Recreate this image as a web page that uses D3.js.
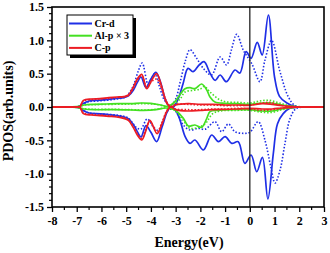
<!DOCTYPE html>
<html>
<head>
<meta charset="utf-8">
<script src="https://cdn.jsdelivr.net/npm/d3@7"></script>
<style>
  body { margin: 0; background: #fff; }
  .chart text { font-family: "Liberation Serif", "Times New Roman", serif; font-weight: bold; }
</style>
</head>
<body>
<div class="chart"></div>
<script>
// [energy (eV), PDOS] pairs
const crdUp = [[-8,0],[-7.2,0],[-6.9,0.01],[-6.7,0.06],[-6.5,0.09],[-6.2,0.1],[-5.8,0.11],[-5.4,0.13],[-5.1,0.14],[-4.9,0.17],[-4.7,0.26],[-4.55,0.37],[-4.4,0.45],[-4.2,0.29],[-4.0,0.42],[-3.8,0.52],[-3.6,0.36],[-3.45,0.15],[-3.3,0.03],[-3.1,0.0],[-2.9,0.12],[-2.7,0.35],[-2.5,0.58],[-2.3,0.53],[-2.05,0.63],[-1.85,0.68],[-1.6,0.5],[-1.4,0.40],[-1.2,0.48],[-0.95,0.38],[-0.6,0.555],[-0.4,0.51],[-0.15,0.83],[0.05,0.73],[0.3,0.97],[0.5,0.78],[0.75,1.38],[1.0,0.45],[1.2,0.16],[1.5,0.06],[1.8,0.01],[2.2,0],[3,0]];
const crdUpDot = [[-8,0],[-7.2,0],[-6.9,0.01],[-6.7,0.05],[-6.5,0.08],[-6.2,0.09],[-5.8,0.1],[-5.4,0.12],[-5.1,0.14],[-4.9,0.2],[-4.7,0.33],[-4.5,0.55],[-4.35,0.66],[-4.1,0.33],[-3.85,0.5],[-3.65,0.3],[-3.45,0.1],[-3.2,0.02],[-3.0,0.12],[-2.8,0.4],[-2.6,0.7],[-2.42,0.86],[-2.15,0.73],[-1.88,0.58],[-1.55,0.48],[-1.2,0.75],[-0.94,0.63],[-0.75,0.85],[-0.53,1.09],[-0.26,0.85],[0.08,0.65],[0.41,0.38],[0.61,0.7],[0.88,1.0],[1.22,0.53],[1.56,0.15],[1.83,0.02],[2.2,0],[3,0]];
const crdDn = [[-8,0],[-7.2,0],[-6.9,-0.01],[-6.7,-0.06],[-6.5,-0.09],[-6.2,-0.1],[-5.8,-0.11],[-5.4,-0.13],[-5.1,-0.15],[-4.9,-0.18],[-4.7,-0.27],[-4.55,-0.37],[-4.4,-0.45],[-4.2,-0.28],[-4.0,-0.38],[-3.77,-0.52],[-3.55,-0.3],[-3.35,-0.08],[-3.2,0.0],[-3.0,-0.05],[-2.82,-0.2],[-2.62,-0.44],[-2.42,-0.545],[-2.22,-0.495],[-1.88,-0.645],[-1.54,-0.42],[-1.27,-0.52],[-1.0,-0.445],[-0.73,-0.545],[-0.47,-0.52],[-0.2,-0.845],[0.05,-0.72],[0.28,-0.97],[0.51,-0.755],[0.73,-1.38],[0.95,-0.7],[1.12,-0.25],[1.35,-0.1],[1.62,-0.02],[2.0,0],[3,0]];
const crdDnDot = [[-8,0],[-7.2,0],[-6.9,-0.01],[-6.7,-0.06],[-6.5,-0.09],[-6.2,-0.1],[-5.8,-0.11],[-5.4,-0.12],[-5.1,-0.14],[-4.9,-0.17],[-4.7,-0.26],[-4.55,-0.32],[-4.4,-0.33],[-4.15,-0.18],[-3.9,-0.3],[-3.7,-0.35],[-3.5,-0.2],[-3.3,-0.05],[-3.1,-0.03],[-2.9,-0.12],[-2.69,-0.27],[-2.42,-0.345],[-2.08,-0.32],[-1.81,-0.335],[-1.41,-0.22],[-1.14,-0.37],[-0.87,-0.255],[-0.6,-0.37],[-0.26,-0.395],[0.0,-0.38],[0.34,-0.22],[0.61,-0.495],[0.85,-0.9],[1.02,-1.14],[1.22,-0.95],[1.42,-0.55],[1.62,-0.18],[1.85,-0.03],[2.2,0],[3,0]];

const alUp = [[-8,0],[-7.5,0],[-7.0,0.005],[-6.87,0.01],[-6.7,0.03],[-6.3,0.04],[-5.8,0.045],[-5.3,0.05],[-4.8,0.05],[-4.4,0.06],[-4.0,0.055],[-3.6,0.03],[-3.3,0.01],[-3.03,0.08],[-2.89,0.15],[-2.62,0.275],[-2.42,0.29],[-2.22,0.275],[-1.95,0.345],[-1.74,0.255],[-1.61,0.15],[-1.41,0.075],[-1.0,0.055],[-0.5,0.05],[0,0.04],[0.5,0.06],[0.9,0.06],[1.3,0.03],[1.7,0.01],[2.2,0],[3,0]];
const alUpDot = [[-8,0],[-7.5,0],[-7.0,0.005],[-6.7,0.03],[-6.3,0.035],[-5.5,0.04],[-4.8,0.045],[-4.3,0.05],[-3.8,0.04],[-3.3,0.01],[-3.0,0.06],[-2.8,0.13],[-2.62,0.225],[-2.3,0.25],[-2.0,0.27],[-1.84,0.31],[-1.61,0.225],[-1.27,0.12],[-1.0,0.08],[-0.5,0.07],[0,0.06],[0.4,0.09],[0.8,0.1],[1.2,0.06],[1.6,0.02],[2.0,0.005],[3,0]];
const alDn = [[-8,0],[-7.5,0],[-7.0,-0.005],[-6.7,-0.03],[-6.3,-0.04],[-5.5,-0.04],[-4.8,-0.045],[-4.3,-0.05],[-3.8,-0.04],[-3.4,-0.015],[-3.03,-0.045],[-2.69,-0.17],[-2.49,-0.285],[-2.22,-0.27],[-1.95,-0.305],[-1.74,-0.17],[-1.61,-0.07],[-1.3,-0.05],[-0.5,-0.04],[0,-0.04],[0.5,-0.06],[0.9,-0.06],[1.3,-0.03],[1.7,-0.01],[2.2,0],[3,0]];
const alDnDot = [[-8,0],[-7.5,0],[-7.0,-0.005],[-6.7,-0.025],[-6.3,-0.035],[-5.5,-0.035],[-4.8,-0.04],[-4.3,-0.045],[-3.8,-0.035],[-3.4,-0.015],[-3.0,-0.06],[-2.69,-0.2],[-2.42,-0.32],[-2.05,-0.3],[-1.8,-0.25],[-1.5,-0.1],[-1.2,-0.06],[-0.5,-0.05],[0,-0.05],[0.5,-0.08],[0.9,-0.08],[1.3,-0.04],[1.7,-0.01],[2.2,0],[3,0]];

const cpUp = [[-8,0],[-7.0,0],[-6.87,0.005],[-6.73,0.1],[-6.4,0.12],[-6.06,0.125],[-5.7,0.14],[-5.38,0.15],[-5.1,0.155],[-4.91,0.18],[-4.71,0.3],[-4.55,0.42],[-4.37,0.49],[-4.17,0.275],[-3.97,0.4],[-3.77,0.5],[-3.56,0.3],[-3.36,0.06],[-3.2,0],[-3.0,0.03],[-2.5,0.05],[-2.0,0.04],[-1.5,0.04],[-1.0,0.03],[-0.5,0.03],[0,0.025],[0.5,0.05],[0.9,0.04],[1.3,0.02],[1.7,0.005],[2.2,0],[3,0]];
const cpUpDot = [[-8,0],[-7.0,0],[-6.87,0.005],[-6.73,0.09],[-6.4,0.11],[-6.06,0.12],[-5.7,0.13],[-5.38,0.14],[-5.1,0.15],[-4.91,0.17],[-4.71,0.28],[-4.55,0.4],[-4.37,0.47],[-4.17,0.3],[-3.97,0.38],[-3.77,0.42],[-3.56,0.27],[-3.36,0.08],[-3.2,0.01],[-3.0,0.04],[-2.5,0.04],[-2.0,0.03],[-1.5,0.03],[-1.0,0.02],[-0.5,0.02],[0,0.03],[0.5,0.06],[0.8,0.07],[1.2,0.03],[1.7,0.005],[2.2,0],[3,0]];
const cpDn = [[-8,0],[-7.0,0],[-6.87,-0.005],[-6.73,-0.1],[-6.4,-0.12],[-6.06,-0.13],[-5.7,-0.14],[-5.38,-0.15],[-5.1,-0.17],[-4.91,-0.2],[-4.71,-0.31],[-4.55,-0.42],[-4.37,-0.495],[-4.2,-0.35],[-4.04,-0.2],[-3.75,-0.4],[-3.55,-0.25],[-3.35,-0.06],[-3.2,0],[-3.0,-0.04],[-2.5,-0.06],[-2.0,-0.05],[-1.5,-0.04],[-1.0,-0.035],[-0.5,-0.03],[0,-0.02],[0.5,-0.03],[0.9,-0.03],[1.3,-0.015],[1.7,-0.005],[2.2,0],[3,0]];
const cpDnDot = [[-8,0],[-7.0,0],[-6.87,-0.005],[-6.73,-0.09],[-6.4,-0.11],[-6.06,-0.12],[-5.7,-0.13],[-5.38,-0.14],[-5.1,-0.16],[-4.91,-0.19],[-4.71,-0.29],[-4.55,-0.4],[-4.37,-0.47],[-4.2,-0.33],[-4.04,-0.22],[-3.75,-0.37],[-3.55,-0.23],[-3.35,-0.05],[-3.2,0],[-3.0,-0.03],[-2.5,-0.04],[-2.0,-0.04],[-1.5,-0.03],[-1.0,-0.03],[-0.5,-0.02],[0,-0.03],[0.5,-0.05],[0.9,-0.04],[1.3,-0.02],[1.7,-0.005],[2.2,0],[3,0]];

const legendNames = ["Cr-d", "Al-p \u00d7 3", "C-p"];
const colors = ["#1f2fe6", "#44e022", "#ec1c24"];
const xTicks = d3.range(-8, 4, 1);
const yTicks = [-1.5, -1.0, -0.5, 0.0, 0.5, 1.0, 1.5];

async function pdos() {
    let margin = { top: 7, right: 6, bottom: 46, left: 52 },
    width = 330 - margin.left - margin.right,
    height = 253 - margin.top - margin.bottom;

    const svg = d3
        .select(".chart")
        .append("svg")
        .attr("width", width + margin.left + margin.right)
        .attr("height", height + margin.top + margin.bottom)
        .append("g")
        .attr("transform", "translate(" + margin.left + "," + margin.top + ")");

    const x = d3
        .scaleLinear()
        .range([0, width])
        .domain([-8, 3]);

    const y = d3
        .scaleLinear()
        .range([height, 0])
        .domain([-1.5, 1.5]);

    const line = d3
        .line()
        .x(d => x(d[0]))
        .y(d => y(d[1]))
        .curve(d3.curveCatmullRom.alpha(0.5));

    const series = [
        { data: crdUpDot, c: 0, dot: true },
        { data: crdDnDot, c: 0, dot: true },
        { data: crdUp, c: 0 },
        { data: crdDn, c: 0 },
        { data: alUpDot, c: 1, dot: true },
        { data: alDnDot, c: 1, dot: true },
        { data: alUp, c: 1 },
        { data: alDn, c: 1 },
        { data: cpUpDot, c: 2, dot: true },
        { data: cpDnDot, c: 2, dot: true },
        { data: cpUp, c: 2 },
        { data: cpDn, c: 2 }
    ];

    svg.append("defs").append("clipPath")
        .attr("id", "clip")
        .append("rect")
        .attr("width", width)
        .attr("height", height);

    const plot = svg.append("g").attr("clip-path", "url(#clip)");

    plot.selectAll(".pdos")
        .data(series)
        .enter()
        .append("path")
        .attr("class", "pdos")
        .attr("fill", "none")
        .attr("stroke", d => colors[d.c])
        .attr("stroke-width", d => d.dot ? 1.6 : 1.7)
        .attr("stroke-dasharray", d => d.dot ? "1.5,1.8" : null)
        .attr("stroke-linejoin", "round")
        .attr("d", d => line(d.data));

    // Fermi level
    svg.append("line")
        .attr("x1", x(0))
        .attr("x2", x(0))
        .attr("y1", 0)
        .attr("y2", height)
        .attr("stroke", "#222")
        .attr("stroke-width", 1.3);

    // axes
    const xAxis = d3.axisBottom(x).tickValues(xTicks).tickSize(5).tickPadding(4).tickFormat(d3.format("d"));
    const yAxis = d3.axisLeft(y).tickValues(yTicks).tickSize(5).tickPadding(3).tickFormat(d3.format(".1f"));

    let xg = svg.append("g")
        .attr("transform", `translate(0, ${height})`)
        .call(xAxis);
    let yg = svg.append("g").call(yAxis);

    [xg, yg].forEach(g => {
        g.select(".domain").remove();
        g.selectAll(".tick line").attr("stroke", "#000").attr("stroke-width", 1.3);
        g.selectAll("text").attr("font-size", 12).attr("fill", "#000");
    });
    xg.selectAll("text").text(d => d3.format("d")(d).replace("\u2212", "-"));
    yg.selectAll("text").text(d => d3.format(".1f")(d).replace("\u2212", "-"));

    // minor ticks
    svg.append("g")
        .selectAll("line")
        .data(d3.range(-7.5, 3, 1))
        .enter()
        .append("line")
        .attr("x1", d => x(d)).attr("x2", d => x(d))
        .attr("y1", height).attr("y2", height + 3)
        .attr("stroke", "#000").attr("stroke-width", 1.2);

    svg.append("g")
        .selectAll("line")
        .data(d3.range(-15, 16).filter(i => i % 5 !== 0).map(i => i / 10))
        .enter()
        .append("line")
        .attr("x1", 0).attr("x2", -3)
        .attr("y1", d => y(d)).attr("y2", d => y(d))
        .attr("stroke", "#000").attr("stroke-width", 1.2);

    svg.append("rect")
        .attr("width", width)
        .attr("height", height)
        .attr("fill", "none")
        .attr("stroke", "#000")
        .attr("stroke-width", 1.6);

    // axis titles
    svg.append("text")
        .text("Energy(eV)")
        .attr("x", 137)
        .attr("y", 240)
        .attr("text-anchor", "middle")
        .attr("font-size", 14);

    svg.append("text")
        .text("PDOS(arb.units)")
        .attr("transform", `translate(-39, ${height / 2 + 4}) rotate(-90)`)
        .attr("text-anchor", "middle")
        .attr("font-size", 14);

    // legend
    const lg = svg.append("g").attr("transform", "translate(15, 8)");
    lg.append("rect")
        .attr("x", 3).attr("y", 3)
        .attr("width", 66).attr("height", 40)
        .attr("fill", "#000");
    lg.append("rect")
        .attr("width", 66).attr("height", 40)
        .attr("fill", "#fff")
        .attr("stroke", "#000")
        .attr("stroke-width", 1);

    const items = lg.selectAll(".item")
        .data(legendNames)
        .enter()
        .append("g")
        .attr("transform", (d, i) => `translate(0, ${8.5 + i * 12.2})`);
    items.append("line")
        .attr("x1", 2).attr("x2", 25)
        .attr("stroke", (d, i) => colors[i])
        .attr("stroke-width", 2);
    items.append("text")
        .text(d => d)
        .attr("x", 27.5)
        .attr("dy", "0.35em")
        .attr("font-size", 10);
}
pdos()
</script>
</body>
</html>
